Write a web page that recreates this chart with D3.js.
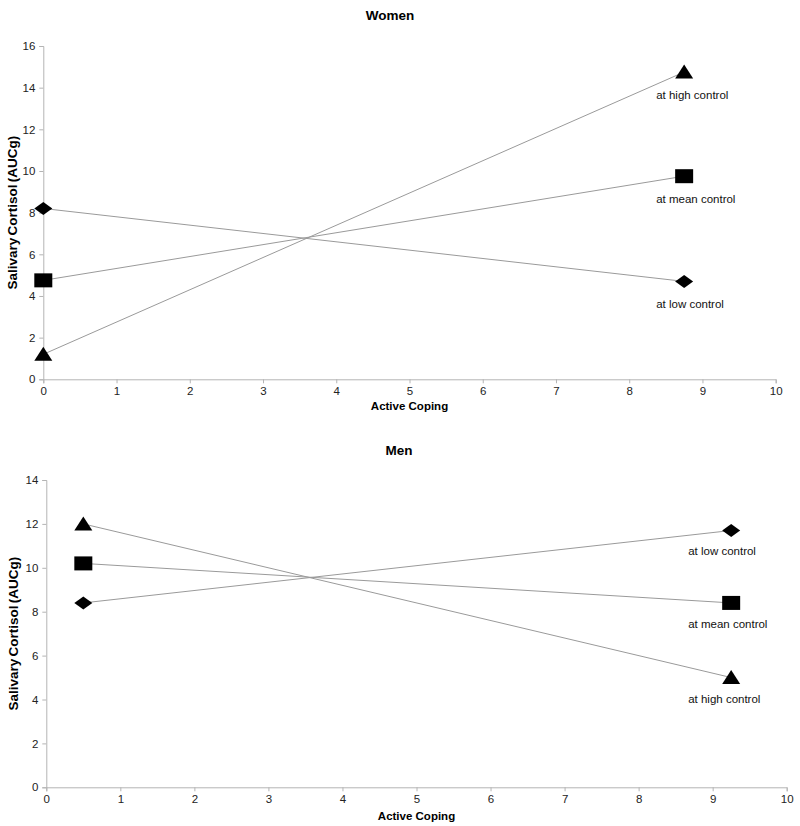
<!DOCTYPE html>
<html>
<head>
<meta charset="utf-8">
<script src="https://cdn.jsdelivr.net/npm/d3@7"></script>
<style>
  html, body { margin: 0; padding: 0; background: #fff; }
  svg { display: block; font-family: "Liberation Sans", Arial, Helvetica, sans-serif; }
</style>
</head>
<body>
<svg id="chart" width="800" height="826"></svg>
<script>
// ---------- data ----------
const seriesNames = ["at low control", "at mean control", "at high control"];
const seriesShapes = ["diamond", "square", "triangle"];
const xTicks = [0, 1, 2, 3, 4, 5, 6, 7, 8, 9, 10];

const womenX = [0, 8.75];
const womenLow = [8.2, 4.7];
const womenMean = [4.75, 9.75];
const womenHigh = [1.2, 14.75];
const womenYTicks = [0, 2, 4, 6, 8, 10, 12, 14, 16];

const menX = [0.5, 9.25];
const menLow = [8.4, 11.7];
const menMean = [10.2, 8.4];
const menHigh = [12.0, 5.0];
const menYTicks = [0, 2, 4, 6, 8, 10, 12, 14];

// ---------- layout ----------
const panels = [
  { title: "Women", x: womenX, series: [womenLow, womenMean, womenHigh], yTicks: womenYTicks,
    left: 43.3, right: 775.7, top: 46, bottom: 379.3, titleX: 390, titleY: 15,
    labelDx: -28, labelDy: 23, xTitleY: 406, yTitleX: 12 },
  { title: "Men", x: menX, series: [menLow, menMean, menHigh], yTicks: menYTicks,
    left: 46.3, right: 786.7, top: 480, bottom: 787.3, titleX: 399, titleY: 450,
    labelDx: -43, labelDy: 21, xTitleY: 816, yTitleX: 13 }
];

const svg = d3.select("#chart");

function markerPath(shape) {
  if (shape === "square") return "M-9,-7H9V7H-9Z";
  if (shape === "diamond") return "M0,-6.5L9,0L0,6.5L-9,0Z";
  return "M0,-7.5L9,6.5L-9,6.5Z";
}

panels.forEach(p => {
  const yMax = d3.max(p.yTicks);
  const xs = d3.scaleLinear().domain([0, 10]).range([p.left, p.right]);
  const ys = d3.scaleLinear().domain([0, yMax]).range([p.bottom, p.top]);
  const g = svg.append("g");

  // title
  g.append("text").attr("x", p.titleX).attr("y", p.titleY)
    .attr("text-anchor", "middle").attr("dominant-baseline", "central")
    .attr("font-size", 13.5).attr("font-weight", "bold").attr("fill", "#000")
    .text(p.title);

  // axes
  const xAxis = d3.axisBottom(xs).tickValues(xTicks).tickSize(4).tickPadding(4).tickFormat(d3.format("d"));
  const yAxis = d3.axisLeft(ys).tickValues(p.yTicks).tickSize(4).tickPadding(4).tickFormat(d3.format("d"));
  const gx = g.append("g").attr("transform", `translate(0,${p.bottom})`).call(xAxis);
  const gy = g.append("g").attr("transform", `translate(${p.left},0)`).call(yAxis);
  [gx, gy].forEach(a => {
    a.select(".domain").attr("stroke", "#b4b4b4").attr("stroke-width", 1);
    a.selectAll(".tick line").attr("stroke", "#b4b4b4");
    a.selectAll(".tick text").attr("fill", "#222").attr("font-size", 11.5)
      .attr("font-family", "Liberation Sans, Arial, sans-serif");
  });

  // axis titles
  g.append("text").attr("x", (p.left + p.right) / 2).attr("y", p.xTitleY)
    .attr("text-anchor", "middle").attr("dominant-baseline", "central")
    .attr("font-size", 11.5).attr("font-weight", "bold").attr("fill", "#000")
    .text("Active Coping");
  g.append("text")
    .attr("transform", `translate(${p.yTitleX},${(p.top + p.bottom) / 2}) rotate(-90)`)
    .attr("text-anchor", "middle").attr("dominant-baseline", "central")
    .attr("font-size", 13.5).attr("font-weight", "bold").attr("fill", "#000")
    .attr("word-spacing", -1.5)
    .text("Salivary Cortisol (AUCg)");

  // lines
  const line = d3.line().x((d, i) => xs(p.x[i])).y(d => ys(d));
  p.series.forEach((vals, si) => {
    g.append("path").datum(vals).attr("d", line)
      .attr("fill", "none").attr("stroke", "#9a9a9a").attr("stroke-width", 1);
  });

  // markers and labels
  p.series.forEach((vals, si) => {
    vals.forEach((v, i) => {
      g.append("path").attr("d", markerPath(seriesShapes[si]))
        .attr("transform", `translate(${xs(p.x[i])},${ys(v)})`)
        .attr("fill", "#000");
    });
    const last = vals.length - 1;
    g.append("text")
      .attr("x", xs(p.x[last]) + p.labelDx).attr("y", ys(vals[last]) + p.labelDy)
      .attr("dominant-baseline", "central")
      .attr("font-size", 11.5).attr("fill", "#111")
      .text(seriesNames[si]);
  });
});
</script>
</body>
</html>
